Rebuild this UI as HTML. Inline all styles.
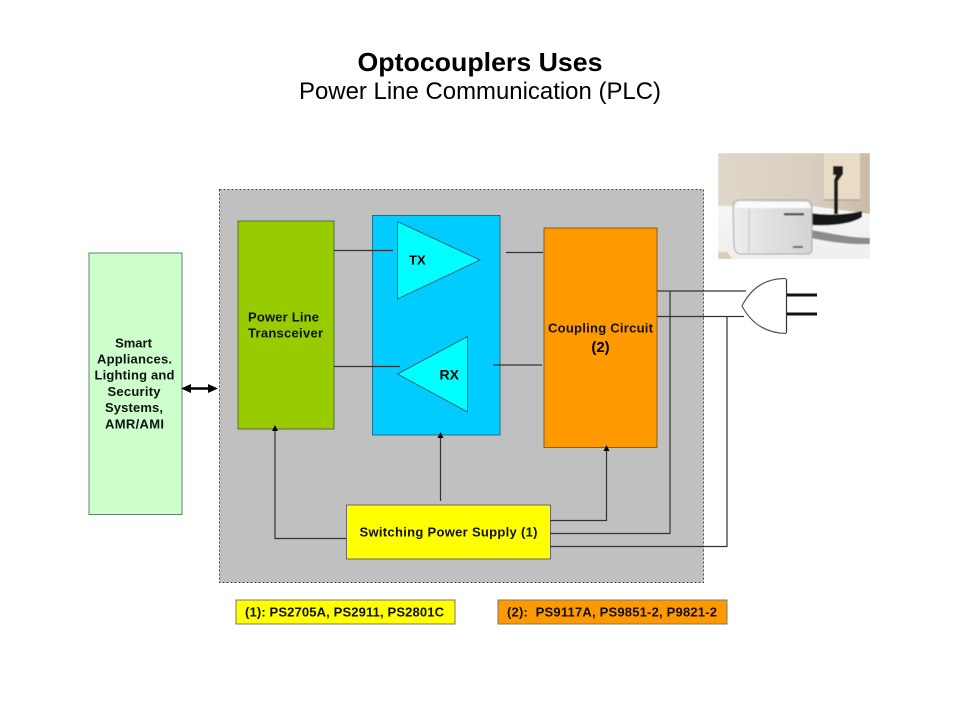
<!DOCTYPE html>
<html>
<head>
<meta charset="utf-8">
<style>
html,body{margin:0;padding:0;background:#fff;width:960px;height:720px;overflow:hidden}
svg{display:block}
text{font-family:"Liberation Sans",Arial,sans-serif;fill:#000}
.b{font-weight:bold;font-size:13px;text-anchor:middle;fill:#111}
.s{font-weight:bold;font-size:13px;fill:#111}
.l{stroke:#333;stroke-width:1.2;fill:none}
</style>
</head>
<body>
<svg width="960" height="720" viewBox="0 0 960 720" xmlns="http://www.w3.org/2000/svg">
<defs>
<linearGradient id="wall" x1="0" y1="0" x2="1" y2="0"><stop offset="0" stop-color="#e0d7ca"/><stop offset="0.6" stop-color="#d9cfc1"/><stop offset="1" stop-color="#c9bba8"/></linearGradient>
<linearGradient id="table" x1="0" y1="0" x2="0" y2="1"><stop offset="0" stop-color="#f6f6f5"/><stop offset="1" stop-color="#f0efec"/></linearGradient>
<linearGradient id="dev" x1="0" y1="0" x2="1" y2="0"><stop offset="0" stop-color="#eceded"/><stop offset="0.2" stop-color="#e6e7e7"/><stop offset="1" stop-color="#d2d4d5"/></linearGradient>
<filter id="soft" x="0" y="0" width="1" height="1"><feGaussianBlur stdDeviation="0.6"/></filter>
<clipPath id="ph"><rect x="718" y="153" width="152" height="106"/></clipPath>
</defs>

<text x="480" y="71" text-anchor="middle" font-size="26" font-weight="bold" textLength="245" lengthAdjust="spacingAndGlyphs">Optocouplers Uses</text>
<text x="480" y="99" text-anchor="middle" font-size="24" textLength="362" lengthAdjust="spacingAndGlyphs">Power Line Communication (PLC)</text>

<!-- photo -->
<g clip-path="url(#ph)"><g filter="url(#soft)">
<rect x="718" y="153" width="152" height="106" fill="url(#wall)"/>
<rect x="824" y="153" width="36" height="48" fill="#e9dcc6"/>
<rect x="824" y="199" width="36" height="2" fill="#bdae98"/>
<path d="M718 206 L812 206 L870 214 V259 H718 Z" fill="url(#table)"/>
<path d="M718 252 L727 252 L733 259 H718 Z" fill="#d9cdb8"/>
<path d="M833 166 h10 v8 l-5 7 v33 h-4 v-34 l2 -5 h-3 z" fill="#1d1a18"/>
<path d="M810 213 C830 216 850 214 862 211 L862 217 C850 225 828 226 810 225 Z" fill="#151412"/>
<path d="M811 230 C830 233 850 238 870 238 L870 244 C848 245 825 241 811 238 Z" fill="#8b8d8c"/>
<path d="M733 207 Q733 200 741 200 L805 200 Q812 200 812 207 L812 250 Q812 254 806 254 L741 254 Q735 254 734 246 Z" fill="url(#dev)" stroke="#a4a4a0" stroke-width="1"/>
<path d="M737 202 H808 L811 208 H735 Z" fill="#fbfbfb"/>
<line x1="749" y1="208" x2="749" y2="253" stroke="#c8c8c3" stroke-width="1"/>
<rect x="784" y="213" width="20" height="2.500" fill="#555"/>
<rect x="793" y="246" width="10" height="2" fill="#666"/>
</g></g>

<!-- gray container -->
<rect x="219.500" y="189.500" width="484" height="393" fill="#c0c0c0" stroke="#444" stroke-width="1" stroke-dasharray="2 2"/>

<!-- left box -->
<rect x="89" y="253" width="93" height="261.500" fill="#ccffcc" stroke="#66806a" stroke-width="1"/>
<text class="b" x="133.500" y="347.500">Smart</text>
<text class="b" x="134.500" y="363.500" textLength="75">Appliances.</text>
<text class="b" x="134.500" y="379.500" textLength="80">Lighting and</text>
<text class="b" x="134" y="396" textLength="53">Security</text>
<text class="b" x="134" y="412" textLength="58">Systems,</text>
<text class="b" x="134.500" y="428.500" textLength="59">AMR/AMI</text>

<!-- double arrow -->
<line x1="186" y1="388.500" x2="214" y2="388.500" stroke="#000" stroke-width="2.500"/>
<path d="M181 388.500 L191 384 V393 Z M218 388.500 L208 384 V393 Z" fill="#000"/>

<!-- transceiver -->
<rect x="238" y="221" width="96" height="208" fill="#99cc00" stroke="#5a6e3a" stroke-width="1"/>
<text class="s" x="248" y="321.500" textLength="71">Power Line</text>
<text class="s" x="248" y="337.500" textLength="75">Transceiver</text>

<!-- blue box -->
<rect x="372.500" y="215.500" width="127.500" height="219.500" fill="#00ccff" stroke="#1f6f8f" stroke-width="1"/>
<polygon points="397.500,221.500 480,260 397.500,299" fill="#00ffff" stroke="#1c6c80" stroke-width="1"/>
<polygon points="467.500,336.500 397.500,374 467.500,412" fill="#00ffff" stroke="#1c6c80" stroke-width="1"/>
<text x="409" y="264.500" font-size="13" font-weight="bold">TX</text>
<text x="439.500" y="379.500" font-size="14" font-weight="bold">RX</text>

<!-- orange box -->
<rect x="544" y="228" width="113" height="219.500" fill="#ff9900" stroke="#8a5a20" stroke-width="1"/>
<text class="s" x="548" y="332.500" textLength="105">Coupling Circuit</text>
<text x="600.500" y="352" text-anchor="middle" font-size="15" font-weight="bold">(2)</text>

<!-- yellow box -->
<rect x="346.500" y="505" width="204" height="54" fill="#ffff00" stroke="#666" stroke-width="1"/>
<text class="s" x="359.500" y="536.500" textLength="178" lengthAdjust="spacing">Switching Power Supply (1)</text>

<!-- connectors -->
<path class="l" d="M334 250.500 H393"/>
<path class="l" d="M334 366.500 H400"/>
<path class="l" d="M506 252.500 H543"/>
<path class="l" d="M493 365 H542"/>
<path class="l" d="M346 538.500 H275 V428"/>
<path class="l" d="M440.500 501 V435"/>
<path class="l" d="M550 520.500 H606.500 V449"/>
<path class="l" d="M550 533.500 H670 V291"/>
<path class="l" d="M550 546.500 H727 V316.500"/>
<path class="l" d="M657 291 H746"/>
<path class="l" d="M657 316.500 H744"/>
<path d="M275 425 L278 431 H272 Z M440.500 432 L443.500 438 H437.500 Z M606.500 445 L609.500 451 H603.500 Z" fill="#000"/>

<!-- plug -->
<path d="M786 278.500 C768 278 752 286 742 306 C752 325 768 333 786 333.500" fill="#fff" stroke="#555" stroke-width="1.200"/>
<line x1="786.500" y1="279" x2="786.500" y2="333" stroke="#333" stroke-width="1.200"/>
<line x1="787" y1="295" x2="817" y2="295" stroke="#111" stroke-width="3"/>
<line x1="787" y1="314" x2="817" y2="314" stroke="#111" stroke-width="3"/>

<!-- legends -->
<rect x="236" y="600" width="219" height="24" fill="#ffff00" stroke="#777" stroke-width="1"/>
<text class="s" x="245" y="616.500" textLength="199" lengthAdjust="spacing">(1): PS2705A, PS2911, PS2801C</text>
<rect x="498" y="600" width="229" height="24" fill="#ff9900" stroke="#777" stroke-width="1"/>
<text class="s" x="507" y="616.500" textLength="210" lengthAdjust="spacing" xml:space="preserve">(2):  PS9117A, PS9851-2, P9821-2</text>
</svg>
</body>
</html>
